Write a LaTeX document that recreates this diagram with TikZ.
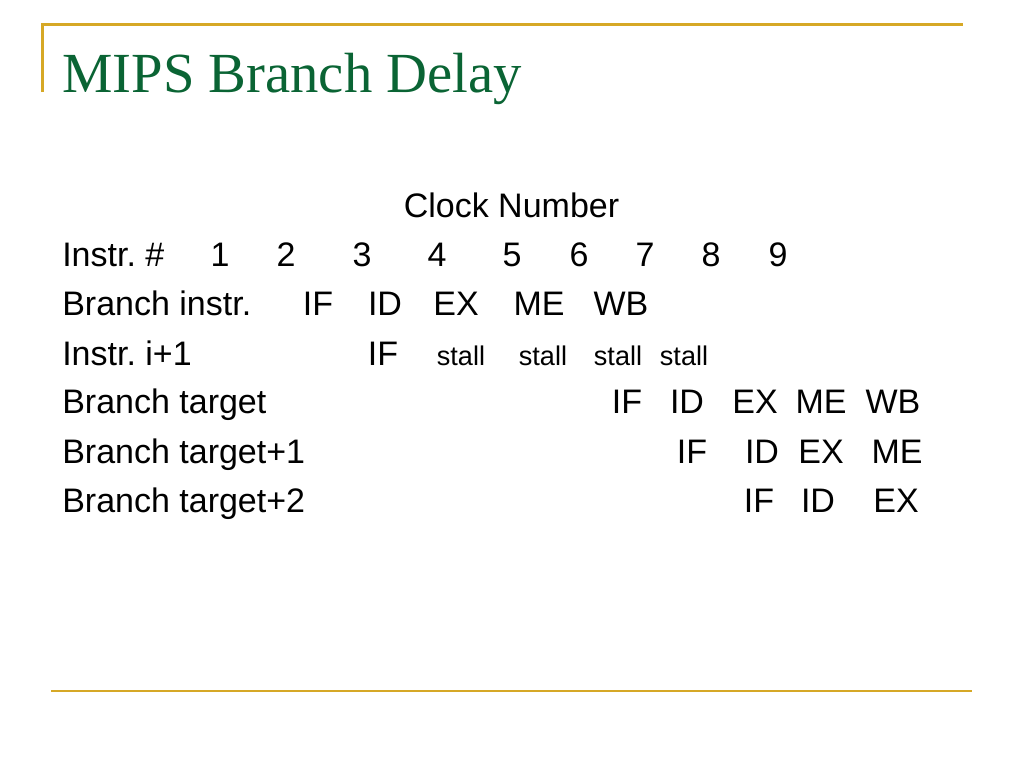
\documentclass[tikz,border=0pt]{standalone}
\usepackage{fontspec}
\setmainfont{Liberation Sans}
\newfontfamily\titlefont{Liberation Serif}
\usepackage{xcolor}
\usepackage{tikz}
\frenchspacing
\definecolor{rulegold}{RGB}{214,168,38}
\definecolor{titlegreen}{RGB}{10,100,52}
\tikzset{
  rowlbl/.style={anchor=base west, inner sep=0pt, font=\fontsize{25.5}{30}\selectfont},
  cell/.style={anchor=base, inner sep=0pt, font=\fontsize{25.5}{30}\selectfont},
  stallcell/.style={anchor=base, inner sep=0pt, font=\fontsize{20.3}{24}\selectfont},
  rule/.style={draw=rulegold, line width=2pt}
}

\begin{document}
\begin{tikzpicture}[x=0.75pt, y=-0.75pt]
            \useasboundingbox (0, 0) rectangle (1024, 768);
            % frame rules
            \coordinate (tl) at (42.5, 24.5);
            \coordinate (tr) at (963, 24.5);
            \coordinate (lb) at (42.5, 92);
            \coordinate (bl) at (51, 691);
            \coordinate (br) at (972, 691);
            \draw [rule] (lb) -- (tl) -- (tr);
            \draw [rule] (bl) -- (br);
            % title
            \node (title) at (62, 92) [anchor=base west, inner sep=0pt, text=titlegreen, font=\titlefont\fontsize{42.5}{50}\selectfont] {MIPS Branch Delay};
            \node (clock) at (511.5, 217) [cell] {Clock Number};
            % clock numbers
            \node (num) at (62, 266) [rowlbl] {Instr. \#};
            \node (c1) at (220, 266) [cell] {1};
            \node (c2) at (286, 266) [cell] {2};
            \node (c3) at (362, 266) [cell] {3};
            \node (c4) at (437, 266) [cell] {4};
            \node (c5) at (512, 266) [cell] {5};
            \node (c6) at (579, 266) [cell] {6};
            \node (c7) at (645, 266) [cell] {7};
            \node (c8) at (711, 266) [cell] {8};
            \node (c9) at (778, 266) [cell] {9};
            % branch instruction
            \node (bi) at (62, 315) [rowlbl] {Branch instr.};
            \node (bi-if) at (318, 315) [cell] {IF};
            \node (bi-id) at (385, 315) [cell] {ID};
            \node (bi-ex) at (456, 315) [cell] {EX};
            \node (bi-me) at (539, 315) [cell] {ME};
            \node (bi-wb) at (621, 315) [cell] {WB};
            % next instruction
            \node (nx) at (62, 365) [rowlbl] {Instr. i+1};
            \node (nx-if) at (383, 365) [cell] {IF};
            \node (nx-s1) at (461, 365) [stallcell] {stall};
            \node (nx-s2) at (543, 365) [stallcell] {stall};
            \node (nx-s3) at (618, 365) [stallcell] {stall};
            \node (nx-s4) at (684, 365) [stallcell] {stall};
            % branch target
            \node (bt) at (62, 413) [rowlbl] {Branch target};
            \node (bt-if) at (627, 413) [cell] {IF};
            \node (bt-id) at (687, 413) [cell] {ID};
            \node (bt-ex) at (755, 413) [cell] {EX};
            \node (bt-me) at (821, 413) [cell] {ME};
            \node (bt-wb) at (893, 413) [cell] {WB};
            % branch target+1
            \node (bta) at (62, 463) [rowlbl] {Branch target+1};
            \node (bta-if) at (692, 463) [cell] {IF};
            \node (bta-id) at (762, 463) [cell] {ID};
            \node (bta-ex) at (821, 463) [cell] {EX};
            \node (bta-me) at (897, 463) [cell] {ME};
            % branch target+2
            \node (btb) at (62, 512) [rowlbl] {Branch target+2};
            \node (btb-if) at (759, 512) [cell] {IF};
            \node (btb-id) at (818, 512) [cell] {ID};
            \node (btb-ex) at (896, 512) [cell] {EX};
        \end{tikzpicture}
\end{document}
